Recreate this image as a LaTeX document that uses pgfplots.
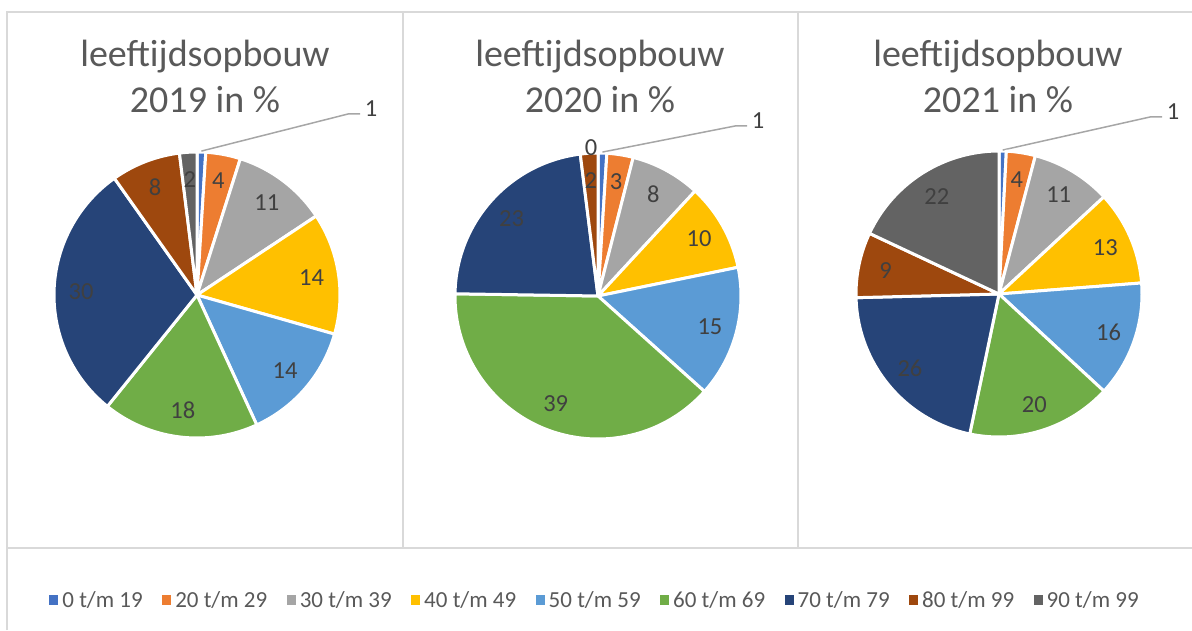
\documentclass[border=0pt]{standalone}
\usepackage{pgfplots}
\pgfplotsset{compat=1.18}
\usepackage{pgfplotstable}
\usepackage{fontspec}
\setmainfont{Carlito}

\definecolor{c0}{HTML}{4472C4}
\definecolor{c1}{HTML}{ED7D31}
\definecolor{c2}{HTML}{A5A5A5}
\definecolor{c3}{HTML}{FFC000}
\definecolor{c4}{HTML}{5B9BD5}
\definecolor{c5}{HTML}{70AD47}
\definecolor{c6}{HTML}{264478}
\definecolor{c7}{HTML}{9E480E}
\definecolor{c8}{HTML}{636363}
\definecolor{titlec}{HTML}{595959}
\definecolor{lblc}{HTML}{404040}
\definecolor{bordc}{HTML}{D9D9D9}
\definecolor{leadc}{HTML}{A6A6A6}

% share per age group (in %), per year
\pgfplotstableread{
idx v2019 v2020 v2021
0 1 1 1
1 4 3 4
2 11 8 11
3 14 10 13
4 14 15 16
5 18 39 20
6 30 23 26
7 8 2 9
8 2 0 22
}\agedata

\tikzset{lbl/.style={font=\fontsize{24.5}{27}\selectfont, text=lblc, inner sep=0pt, anchor=center}}

\pgfplotsset{sq/.style={legend image code/.code={\fill[##1,draw=none] (0pt,-5pt) rectangle (9pt,5pt);\path[draw=none,fill=none] (0pt,0pt) (11pt,0pt);}}}

% #1 column, #2 cx, #3 cy, #4 elbow x, #5 elbow y
\newcommand\piechart[5]{%
  \def\pietotal{0}%
  \pgfplotsforeachungrouped \i in {0,...,8}{%
    \pgfplotstablegetelem{\i}{#1}\of\agedata
    \pgfmathsetmacro\pietotal{\pietotal+\pgfplotsretval}%
  }%
  \def\piecum{0}%
  \pgfplotsforeachungrouped \i in {0,...,8}{%
    \pgfplotstablegetelem{\i}{#1}\of\agedata
    \let\pv\pgfplotsretval
    \pgfmathsetmacro\pieA{90-360*(\piecum/\pietotal)}%
    \pgfmathsetmacro\piecum{\piecum+\pv}%
    \pgfmathsetmacro\pieB{90-360*(\piecum/\pietotal)}%
    \pgfmathsetmacro\pieM{(\pieA+\pieB)/2}%
    \ifdim\pv pt>0pt
      \edef\tmp{\noexpand\fill[c\i,draw=white,line width=3pt,line join=round] (axis cs:#2,#3) -- ++(\pieA:143pt) arc[start angle=\pieA,end angle=\pieB,radius=143pt] -- cycle;}%
      \tmp
    \fi
    \ifdim\pv pt>1.5pt
      \edef\tmp{\noexpand\path (axis cs:#2,#3) ++(\pieM:116pt) node[lbl] {\pv};}%
      \tmp
    \else
      \ifdim\pv pt>0.5pt
        \edef\tmp{\noexpand\draw[leadc,line width=1.5pt] (axis cs:#2,#3) ++(\pieM:144pt) -- (axis cs:#4,#5) -- ++(12pt,0) node[lbl,anchor=west,inner xsep=4pt,yshift=5pt] {\pv};}%
        \tmp
      \else
        \edef\tmp{\noexpand\path (axis cs:#2,#3) ++(\pieM:148pt) node[lbl,xshift=-7pt] {\pv};}%
        \tmp
      \fi
    \fi
  }%
}

\begin{document}
\begin{tikzpicture}
\begin{axis}[
  x=1pt, y=1pt,
  xmin=0, xmax=1192, ymin=0, ymax=630,
  enlargelimits=false,
  hide axis, clip=false,
  legend columns=9,
  legend style={at={(0.4992,0.0476)}, anchor=center, draw=none, fill=none,
    font=\fontsize{23}{26}\selectfont, text=titlec,
    /tikz/every even column/.append style={column sep=17.5pt}},
  legend cell align=left,
]
% panel borders
\draw[bordc, line width=2pt] (axis cs:7,0) -- (axis cs:7,618) -- (axis cs:1192,618);
\draw[bordc, line width=2pt] (axis cs:7,82) -- (axis cs:1192,82);
\draw[bordc, line width=2pt] (axis cs:403,82) -- (axis cs:403,618);
\draw[bordc, line width=2pt] (axis cs:798,82) -- (axis cs:798,618);

% titles
\node[anchor=base, text=titlec, font=\fontsize{38}{40}\selectfont] at (axis cs:205,563) {leeftijdsopbouw};
\node[anchor=base, text=titlec, font=\fontsize{38}{40}\selectfont] at (axis cs:205,517) {2019 in \%};
\node[anchor=base, text=titlec, font=\fontsize{38}{40}\selectfont] at (axis cs:600,563) {leeftijdsopbouw};
\node[anchor=base, text=titlec, font=\fontsize{38}{40}\selectfont] at (axis cs:600,517) {2020 in \%};
\node[anchor=base, text=titlec, font=\fontsize{38}{40}\selectfont] at (axis cs:998,563) {leeftijdsopbouw};
\node[anchor=base, text=titlec, font=\fontsize{38}{40}\selectfont] at (axis cs:998,517) {2021 in \%};

\piechart{v2019}{197}{335}{348}{516}
\piechart{v2020}{598}{334}{735}{504}
\piechart{v2021}{999}{336}{1150}{513}

\addlegendimage{sq, fill=c0}\addlegendentry{0 t/m 19}
\addlegendimage{sq, fill=c1}\addlegendentry{20 t/m 29}
\addlegendimage{sq, fill=c2}\addlegendentry{30 t/m 39}
\addlegendimage{sq, fill=c3}\addlegendentry{40 t/m 49}
\addlegendimage{sq, fill=c4}\addlegendentry{50 t/m 59}
\addlegendimage{sq, fill=c5}\addlegendentry{60 t/m 69}
\addlegendimage{sq, fill=c6}\addlegendentry{70 t/m 79}
\addlegendimage{sq, fill=c7}\addlegendentry{80 t/m 99}
\addlegendimage{sq, fill=c8}\addlegendentry{90 t/m 99}
\end{axis}
\pgfresetboundingbox
\useasboundingbox (current axis.south west) rectangle (current axis.north east);
\end{tikzpicture}
\end{document}
